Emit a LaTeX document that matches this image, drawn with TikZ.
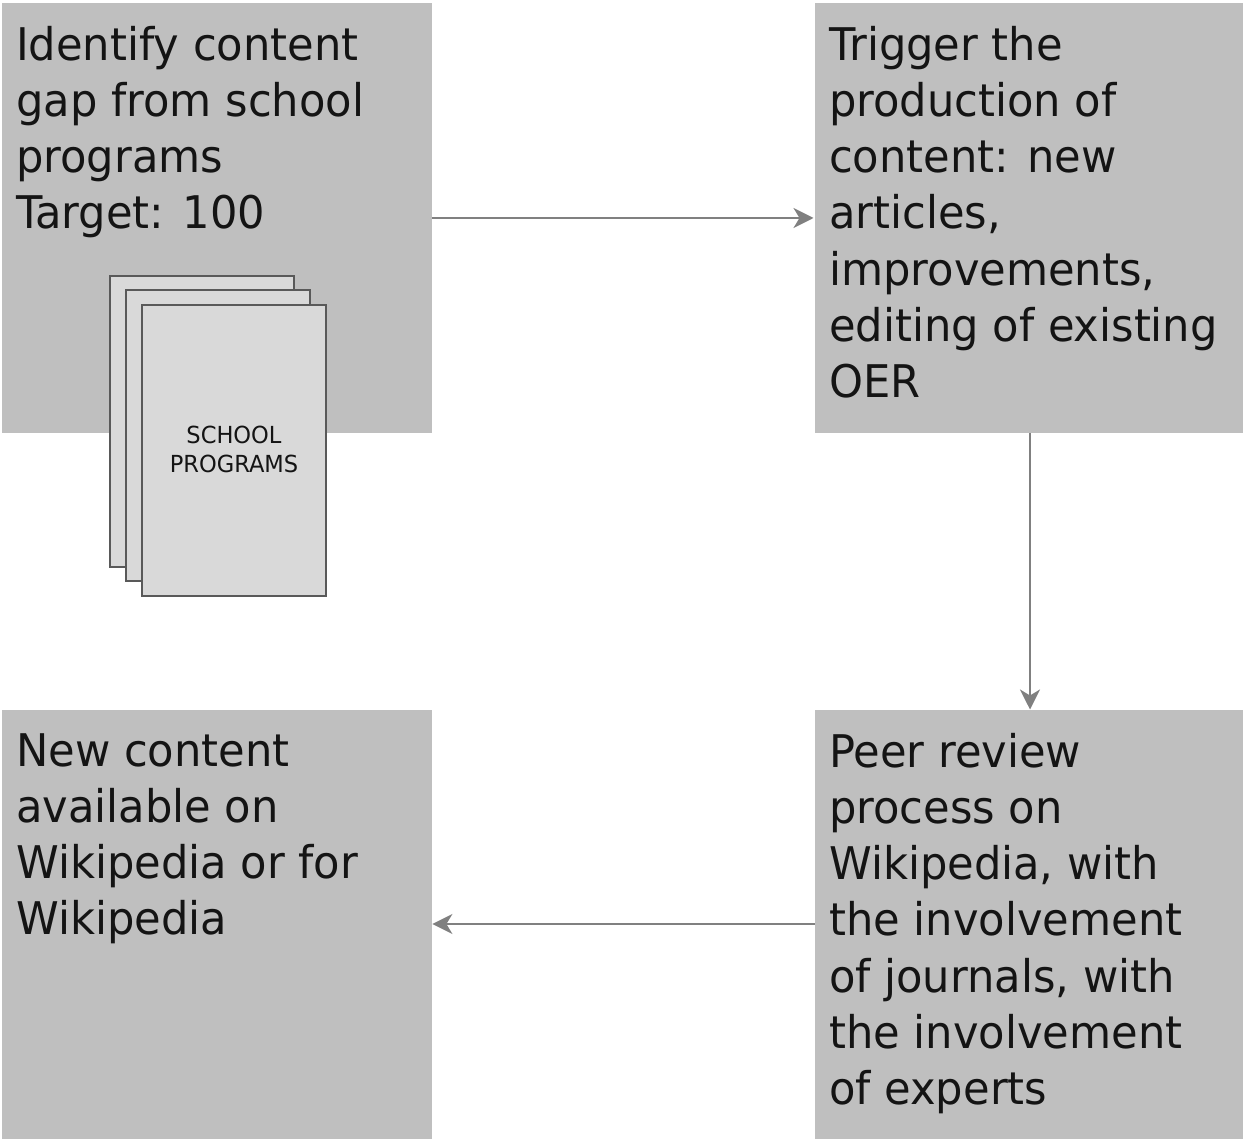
\documentclass[tikz,border=0pt]{standalone}
\usepackage{fontspec}
\setmainfont{DejaVu Sans}[FakeStretch=0.96]
\usetikzlibrary{arrows.meta}
\definecolor{boxg}{HTML}{BFBFBF}
\definecolor{pageg}{HTML}{D9D9D9}
\definecolor{lineg}{HTML}{808080}
\definecolor{edgeg}{HTML}{595959}
\tikzset{
  x=1pt,y=-1pt,
  stepbox/.style={fill=boxg,draw=none,anchor=north west,minimum width=430pt,minimum height=429.5pt,inner sep=0pt},
  boxtext/.style={anchor=north west,align=left,inner sep=0pt,font=\fontsize{45}{56.2}\selectfont,text=black!92},
  pagebox/.style={fill=pageg,draw=edgeg,line width=2.4pt,anchor=north west,minimum width=184pt,minimum height=291pt,inner sep=0pt,outer sep=0pt},
  flow/.style={draw=lineg,line width=2.2pt,-{Stealth[length=20pt,width=20pt,inset=6pt]}}
}
\begin{document}
\begin{tikzpicture}
\useasboundingbox (0,0) rectangle (1243,1139);
\node[stepbox] (a) at (2,3) {};
\node[stepbox,minimum width=428.5pt] (b) at (814.5,3) {};
\node[stepbox,minimum width=428.5pt] (c) at (814.5,709.5) {};
\node[stepbox] (d) at (2,709.5) {};
\node[boxtext] (ta) at (16,26) {Identify content\\gap from school\\programs\\Target: 100};
\node[boxtext] (tb) at (829,26) {Trigger the\\production of\\content: new\\articles,\\improvements,\\editing of existing\\OER};
\node[boxtext] (tc) at (829,733) {Peer review\\process on\\Wikipedia, with\\the involvement\\of journals, with\\the involvement\\of experts};
\node[boxtext] (td) at (16,733) {New content\\available on\\Wikipedia or for\\Wikipedia};
\node[pagebox] (p1) at (110,276) {};
\node[pagebox] (p2) at (126,290) {};
\node[pagebox] (p3) at (142,305) {};
\node[align=center,font=\fontsize{23.5}{29}\selectfont,text=black!92] (p3t) at ([yshift=1.5pt]p3.center) {SCHOOL\\PROGRAMS};
\coordinate (ab) at (0,218);
\coordinate (cd) at (0,924);
\coordinate (bc) at (1030,0);
\draw[flow] (a.east |- ab) -- ([xshift=-1pt]b.west |- ab);
\draw[flow] (bc |- b.south) -- (bc |- c.north);
\draw[flow] (c.west |- cd) -- (d.east |- cd);
\end{tikzpicture}
\end{document}
